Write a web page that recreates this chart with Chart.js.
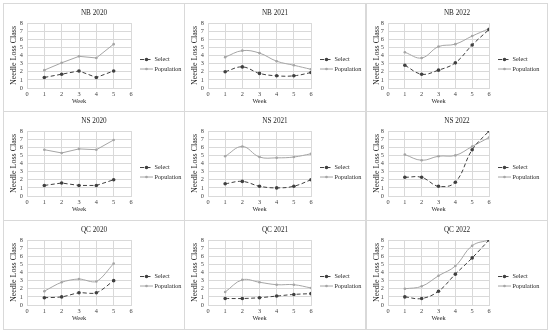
<!DOCTYPE html>
<html>
<head>
<meta charset="utf-8">
<script src="https://cdn.jsdelivr.net/npm/chart.js@4.4.0/dist/chart.umd.min.js"></script>
<style>
  html, body { margin: 0; padding: 0; background: #fff; }
  #grid { position: relative; width: 550px; height: 334px; }
  .panel { position: absolute; width: 180px; height: 108px; border: 1px solid #d9d9d9; background: #fff; }
  .panel canvas { display: block; }
</style>
</head>
<body>
<div id="grid"></div>
<script>
// -----------------------------------------------------
// Datos
// -----------------------------------------------------
const titulos = ["NB 2020", "NB 2021", "NB 2022", "NS 2020", "NS 2021", "NS 2022", "QC 2020", "QC 2021", "QC 2022"];
const semanas2020 = [1, 2, 3, 4, 5];
const semanas = [1, 2, 3, 4, 5, 6];

const nb2020Select = [1.3, 1.7, 2.1, 1.3, 2.1];
const nb2020Poblacion = [2.2, 3.1, 3.9, 3.7, 5.4];
const nb2021Select = [2.0, 2.6, 1.8, 1.5, 1.5, 1.9];
const nb2021Poblacion = [3.8, 4.6, 4.3, 3.3, 2.8, 2.3];
const nb2022Select = [2.8, 1.7, 2.2, 3.1, 5.3, 7.2];
const nb2022Poblacion = [4.4, 3.7, 5.1, 5.4, 6.4, 7.3];

const ns2020Select = [1.3, 1.6, 1.3, 1.3, 2.0];
const ns2020Poblacion = [5.7, 5.3, 5.8, 5.7, 6.9];
const ns2021Select = [1.5, 1.8, 1.2, 1.0, 1.2, 2.0];
const ns2021Poblacion = [4.9, 6.1, 4.8, 4.7, 4.8, 5.2];
const ns2022Select = [2.3, 2.3, 1.2, 1.7, 5.7, 8.0];
const ns2022Poblacion = [5.1, 4.4, 4.9, 5.0, 6.1, 7.2];

const qc2020Select = [0.9, 1.0, 1.5, 1.5, 3.0];
const qc2020Poblacion = [1.7, 2.8, 3.2, 2.9, 5.1];
const qc2021Select = [0.8, 0.8, 0.9, 1.1, 1.3, 1.4];
const qc2021Poblacion = [1.6, 3.1, 2.8, 2.5, 2.5, 2.1];
const qc2022Select = [1.0, 0.8, 1.7, 3.8, 5.8, 8.0];
const qc2022Poblacion = [2.0, 2.3, 3.6, 4.8, 7.3, 8.0];

const paneles = [
  { semanas: semanas2020, select: nb2020Select, poblacion: nb2020Poblacion, curva: 0 },
  { semanas: semanas, select: nb2021Select, poblacion: nb2021Poblacion, curva: 0.4 },
  { semanas: semanas, select: nb2022Select, poblacion: nb2022Poblacion, curva: 0.4 },
  { semanas: semanas2020, select: ns2020Select, poblacion: ns2020Poblacion, curva: 0 },
  { semanas: semanas, select: ns2021Select, poblacion: ns2021Poblacion, curva: 0.4 },
  { semanas: semanas, select: ns2022Select, poblacion: ns2022Poblacion, curva: 0.4 },
  { semanas: semanas2020, select: qc2020Select, poblacion: qc2020Poblacion, curva: 0.3 },
  { semanas: semanas, select: qc2021Select, poblacion: qc2021Poblacion, curva: 0.4 },
  { semanas: semanas, select: qc2022Select, poblacion: qc2022Poblacion, curva: 0.4 },
];

// Maquetación
const izquierdaPanel = [3, 184, 366];
const arribaPanel = [3, 111, 220];
const anchoEjeY = [23, 23, 21];
const margenDerecho = [53, 54, 58];

const FUENTE = '"Liberation Serif", "Times New Roman", serif';
const GRIS_TITULO = "#262626";
const GRIS_OSCURO = "#404040";
const GRIS_CLARO = "#a5a5a5";
const GRILLA = "#d9d9d9";

// Leyenda lateral: línea de muestra + marcador + texto
const leyendaLateral = {
  id: "leyendaLateral",
  afterDraw(chart) {
    const { ctx, chartArea } = chart;
    const x0 = chartArea.right + 9;
    const yMid = (chartArea.top + chartArea.bottom) / 2;
    chart.data.datasets.forEach((ds, i) => {
      const y = yMid + 4 + i * 9.5;
      ctx.save();
      ctx.strokeStyle = ds.borderColor;
      ctx.lineWidth = 1;
      ctx.setLineDash(ds.borderDash || []);
      ctx.beginPath();
      ctx.moveTo(x0, y);
      ctx.lineTo(x0 + 13, y);
      ctx.stroke();
      ctx.setLineDash([]);
      ctx.fillStyle = ds.pointBackgroundColor;
      ctx.beginPath();
      ctx.arc(x0 + 6.5, y, ds.pointRadius, 0, Math.PI * 2);
      ctx.fill();
      ctx.fillStyle = GRIS_TITULO;
      ctx.font = "6.2px " + FUENTE;
      ctx.textBaseline = "middle";
      ctx.fillText(ds.label, x0 + 14.5, y);
      ctx.restore();
    });
  },
};

const puntos = (xs, ys) => xs.map((x, i) => ({ x, y: ys[i] }));

const grid = document.getElementById("grid");

paneles.forEach((p, k) => {
  const col = k % 3;
  const fila = Math.floor(k / 3);
  const div = document.createElement("div");
  div.className = "panel";
  div.style.left = izquierdaPanel[col] + "px";
  div.style.top = arribaPanel[fila] + "px";
  const canvas = document.createElement("canvas");
  canvas.width = 180;
  canvas.height = 108;
  div.appendChild(canvas);
  grid.appendChild(div);

  new Chart(canvas, {
    type: "line",
    data: {
      datasets: [
        {
          label: "Select",
          data: puntos(p.semanas, p.select),
          borderColor: GRIS_OSCURO,
          borderWidth: 1,
          borderDash: [4, 2.5],
          pointRadius: 1.8,
          pointBackgroundColor: GRIS_OSCURO,
          pointBorderWidth: 0,
          tension: p.curva,
        },
        {
          label: "Population",
          data: puntos(p.semanas, p.poblacion),
          borderColor: GRIS_CLARO,
          borderWidth: 1,
          pointRadius: 1.3,
          pointBackgroundColor: GRIS_CLARO,
          pointBorderWidth: 0,
          tension: p.curva,
        },
      ],
    },
    options: {
      responsive: false,
      animation: false,
      devicePixelRatio: 1,
      layout: { padding: { top: 0, right: 0, bottom: 7, left: 0 } },
      plugins: {
        legend: { display: false },
        tooltip: { enabled: false },
        title: {
          display: true,
          text: titulos[k],
          color: GRIS_TITULO,
          font: { family: FUENTE, size: 7.2, weight: "normal" },
          padding: { top: 5, bottom: 5.4 },
        },
      },
      scales: {
        x: {
          type: "linear",
          min: 0,
          max: 6,
          ticks: { stepSize: 1, color: GRIS_OSCURO, font: { family: FUENTE, size: 6.3 }, padding: 3, maxRotation: 0, autoSkip: false },
          grid: { color: GRILLA, drawTicks: false },
          border: { color: GRILLA },
          title: { display: true, text: "Week", color: GRIS_TITULO, font: { family: FUENTE, size: 6.3 }, padding: { top: 0, bottom: 0 } },
          afterFit(scale) { scale.height = 17; },
        },
        y: {
          min: 0,
          max: 8,
          ticks: { stepSize: 1, color: GRIS_OSCURO, font: { family: FUENTE, size: 6.3 }, padding: 4, autoSkip: false },
          grid: { color: GRILLA, drawTicks: false },
          border: { color: GRILLA },
          title: { display: true, text: "Needle Loss Class", color: GRIS_TITULO, font: { family: FUENTE, size: 8 }, padding: { top: 5, bottom: 0 } },
          afterFit(scale) { scale.width = anchoEjeY[col]; },
        },
        // eje vacío a la derecha: reserva el hueco de la leyenda
        hueco: {
          type: "linear",
          position: "right",
          display: true,
          grid: { display: false },
          border: { display: false },
          ticks: { display: false },
          afterFit(scale) { scale.width = margenDerecho[col]; },
        },
      },
    },
    plugins: [leyendaLateral],
  });
});
</script>
</body>
</html>
